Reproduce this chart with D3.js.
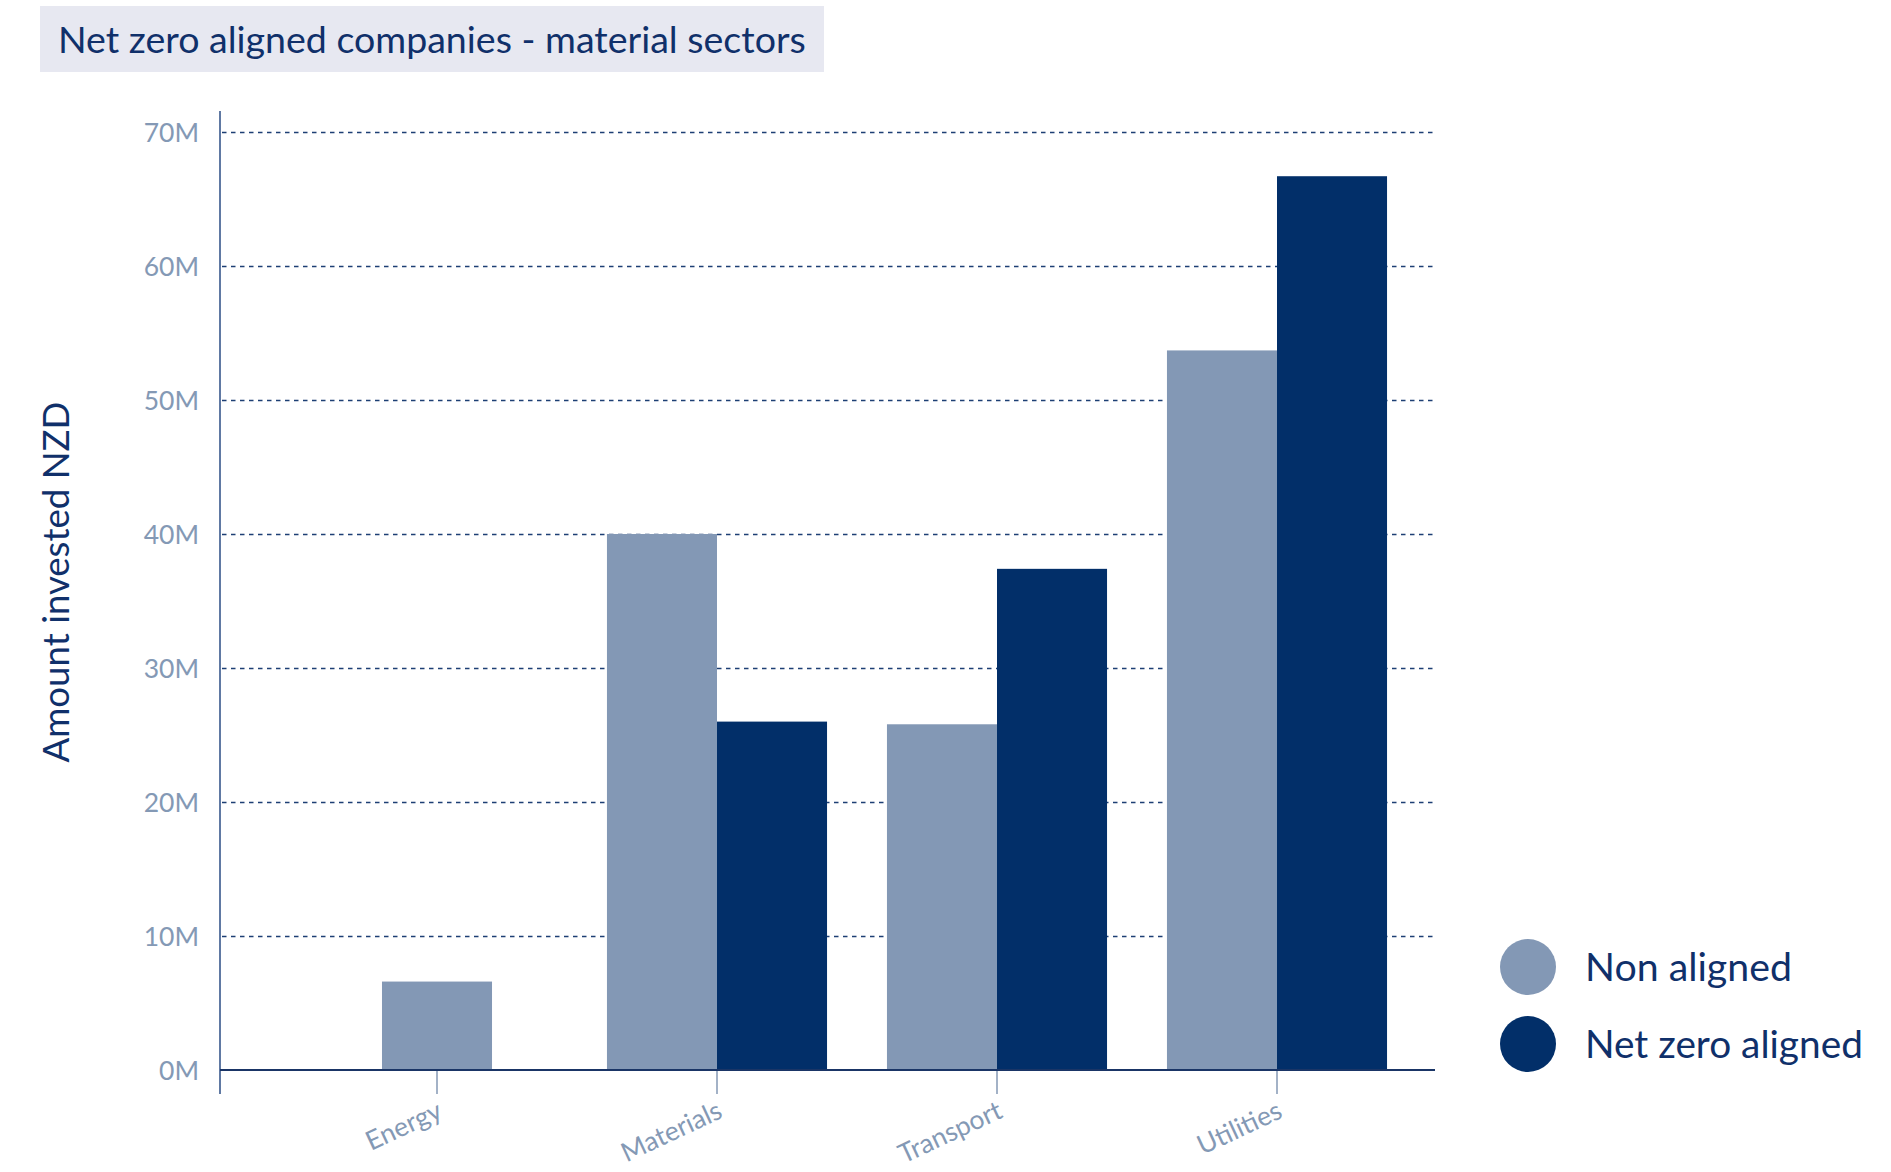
<!DOCTYPE html>
<html>
<head>
<meta charset="utf-8">
<script src="https://cdn.jsdelivr.net/npm/d3@7"></script>
<style>
  html, body { margin: 0; padding: 0; background: #ffffff; }
  svg { display: block; font-family: Lato, "Open Sans", sans-serif; }
</style>
</head>
<body>
<svg id="chart" width="1891" height="1172"></svg>
<script>
// Amount invested (NZD millions) in material-sector companies
const categories = ["Energy", "Materials", "Transport", "Utilities"];
const nonAligned = [6.6, 40.0, 25.8, 53.7];
const netZeroAligned = [null, 26.0, 37.4, 66.7];
const seriesNames = ["Non aligned", "Net zero aligned"];
const seriesColors = ["#8398b5", "#022f69"];
const yTickValues = [0, 10, 20, 30, 40, 50, 60, 70];
const titleText = "Net zero aligned companies - material sectors";
const yAxisTitle = "Amount invested NZD";

const svg = d3.select("#chart");

const plot = { left: 220, right: 1435, top: 132, bottom: 1070 };

const y = d3.scaleLinear().domain([0, 70]).range([plot.bottom, plot.top]);
const x0 = d3.scaleBand().domain(categories).range([plot.left + 77, plot.right - 18]).padding(0);
const barW = x0.bandwidth() * 0.393;

const textDark = "#10306a";
const tickGrey = "#8499b5";

// fit a text element's font size so it spans a given width
function fitWidth(sel, target) {
  const node = sel.node();
  const base = parseFloat(sel.attr("font-size"));
  const w = node.getComputedTextLength();
  sel.attr("font-size", (base * target / w).toFixed(2));
}

// title banner
svg.append("rect").attr("x", 40).attr("y", 6).attr("width", 784).attr("height", 66).attr("fill", "#e7e8f1");
const title = svg.append("text").attr("x", 58).attr("y", 53).attr("font-size", 31)
  .attr("fill", textDark).text(titleText);
fitWidth(title, 748);

// dashed gridlines
svg.append("g").selectAll("line").data(yTickValues.filter(v => v > 0)).join("line")
  .attr("x1", plot.left + 2).attr("x2", plot.right + 1)
  .attr("y1", d => Math.round(y(d)) + 0.5).attr("y2", d => Math.round(y(d)) + 0.5)
  .attr("stroke", "#1d3f74").attr("stroke-width", 1.4).attr("stroke-dasharray", "4.5,4.5");

// bars
const rows = categories.map((c, i) => ({ cat: c, values: [nonAligned[i], netZeroAligned[i]] }));
const groups = svg.append("g").selectAll("g").data(rows).join("g");
groups.each(function (row) {
  const present = row.values.map((v, k) => ({ v, k })).filter(d => d.v != null);
  const cx = x0(row.cat) + x0.bandwidth() / 2;
  const x1 = d3.scaleBand().domain(present.map(d => d.k))
    .range([cx - present.length * barW / 2, cx + present.length * barW / 2]).padding(0);
  d3.select(this).selectAll("rect").data(present).join("rect")
    .attr("x", d => x1(d.k)).attr("width", x1.bandwidth())
    .attr("y", d => y(d.v)).attr("height", d => y(0) - y(d.v))
    .attr("fill", d => seriesColors[d.k]);
});

// y axis
const yAxis = d3.axisLeft(y).tickValues(yTickValues).tickSize(0).tickPadding(0)
  .tickFormat(d => d + "M");
const yg = svg.append("g").attr("transform", `translate(${plot.left - 21},0)`).call(yAxis);
yg.select(".domain").remove();
yg.selectAll("text").attr("fill", tickGrey).attr("font-size", 26.5)
  .attr("font-family", "Lato, 'Open Sans', sans-serif").attr("dy", "0.36em");
svg.append("line").attr("x1", plot.left).attr("x2", plot.left)
  .attr("y1", plot.top - 21).attr("y2", plot.bottom + 24)
  .attr("stroke", "#2b4d84").attr("stroke-width", 1.5);

// x axis
const xg = svg.append("g").attr("transform", `translate(0,${plot.bottom})`)
  .call(d3.axisBottom(x0).tickSize(24).tickSizeOuter(0).tickFormat(""));
xg.select(".domain").remove();
xg.selectAll(".tick line").attr("stroke", tickGrey).attr("stroke-width", 1.5);
svg.append("line").attr("x1", plot.left).attr("x2", plot.right)
  .attr("y1", plot.bottom).attr("y2", plot.bottom)
  .attr("stroke", "#1a3566").attr("stroke-width", 2);
svg.append("g").selectAll("text").data(categories).join("text")
  .attr("transform", d => `translate(${x0(d) + x0.bandwidth() / 2 + 7},${plot.bottom + 47}) rotate(-25)`)
  .attr("text-anchor", "end").attr("font-size", 26.5).attr("fill", tickGrey).text(d => d);

// y axis title
const yt = svg.append("text").attr("transform", "translate(69,582) rotate(-90)")
  .attr("text-anchor", "middle").attr("font-size", 32).attr("fill", textDark).text(yAxisTitle);
fitWidth(yt, 361);

// legend
const legend = svg.append("g").selectAll("g").data(seriesNames).join("g")
  .attr("transform", (d, i) => `translate(1528,${967 + i * 77})`);
legend.append("circle").attr("r", 28).attr("fill", (d, i) => seriesColors[i]);
legend.append("text").attr("x", 57).attr("dy", "0.35em").attr("font-size", 34)
  .attr("fill", textDark).text(d => d)
  .each(function (d, i) { fitWidth(d3.select(this), [207, 278][i]); });
</script>
</body>
</html>
